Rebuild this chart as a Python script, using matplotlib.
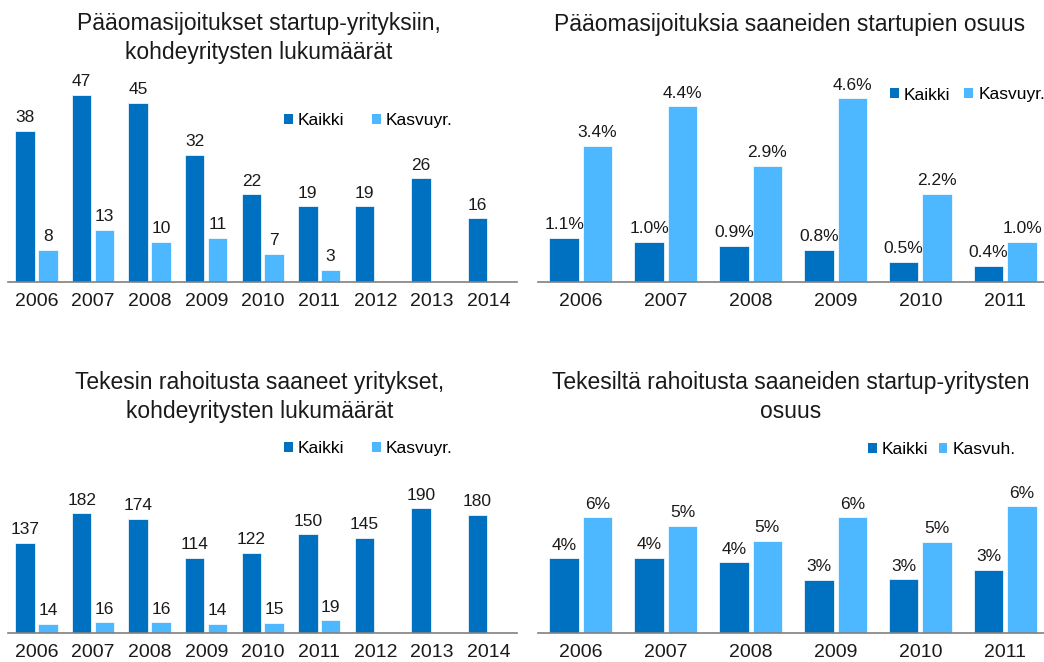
import matplotlib
matplotlib.use('Agg')
import matplotlib.pyplot as plt
from matplotlib.patches import Patch

plt.rcParams['font.family'] = ['Liberation Sans', 'DejaVu Sans']

# data
years_long = ['2006', '2007', '2008', '2009', '2010', '2011', '2012', '2013', '2014']
years_short = ['2006', '2007', '2008', '2009', '2010', '2011']

# Pääomasijoitukset, lukumäärät
pk_kaikki = [38, 47, 45, 32, 22, 19, 19, 26, 16]
pk_kasvu = [8, 13, 10, 11, 7, 3]

# Pääomasijoituksia saaneiden osuus (%)
po_kaikki = [1.1, 1.0, 0.9, 0.8, 0.5, 0.4]
po_kasvu = [3.4, 4.4, 2.9, 4.6, 2.2, 1.0]

# Tekes, lukumäärät
tk_kaikki = [137, 182, 174, 114, 122, 150, 145, 190, 180]
tk_kasvu = [14, 16, 16, 14, 15, 19]

# Tekes, osuus (%)
to_kaikki = [3.72, 3.75, 3.53, 2.65, 2.67, 3.15]
to_kasvu = [5.77, 5.33, 4.60, 5.77, 4.53, 6.32]

DARK = '#0070C0'
LIGHT = '#4DB8FF'
W, H = 1044, 662

fig = plt.figure(figsize=(W / 100, H / 100), dpi=100)


def rect(x0, x1, ytop, ybase):
    return [x0 / W, 1 - ybase / H, (x1 - x0) / W, (ybase - ytop) / H]


def panel(r, cats, a, b, ylim, fmt, width, off, xmax, leg_xy, leg_lab, colsp):
    ax = fig.add_axes(r)
    xa = [i - off for i in range(len(a))]
    xb = [i + off for i in range(len(b))]
    bars_a = ax.bar(xa, a, width, color=DARK, edgecolor='white', linewidth=0.5)
    bars_b = ax.bar(xb, b, width, color=LIGHT, edgecolor='white', linewidth=0.5)
    for bars, vals in ((bars_a, a), (bars_b, b)):
        for bar, v in zip(bars, vals):
            ax.annotate(fmt.format(v), (bar.get_x() + bar.get_width() / 2, v),
                        xytext=(0, 4), textcoords='offset points',
                        ha='center', va='bottom', fontsize=12.5, color='#1a1a1a')
    ax.set_xlim(-0.5, xmax)
    ax.set_ylim(0, ylim)
    ax.set_xticks(range(len(cats)))
    ax.set_xticklabels(cats, fontsize=14, color='#1a1a1a')
    ax.tick_params(axis='x', length=0, pad=8)
    ax.set_yticks([])
    for s in ['top', 'right', 'left']:
        ax.spines[s].set_visible(False)
    ax.spines['bottom'].set_color('#808080')
    ax.spines['bottom'].set_linewidth(1.2)
    ax.patch.set_alpha(0)
    handles = [Patch(facecolor=DARK, label='Kaikki'), Patch(facecolor=LIGHT, label=leg_lab)]
    ax.legend(handles=handles, loc='center left', ncol=2, frameon=False,
              bbox_to_anchor=(leg_xy[0] / W, 1 - leg_xy[1] / H),
              bbox_transform=fig.transFigure, fontsize=12.5,
              handlelength=0.5, handleheight=0.5, handletextpad=0.3,
              columnspacing=colsp, borderaxespad=0, borderpad=0)
    return ax


panel(rect(8.4, 517, 85, 281.7), years_long, pk_kaikki, pk_kasvu, 49.5,
      '{:d}', 0.345, 0.2025, 8.5, (284, 120.7), 'Kasvuyr.', 1.6)
panel(rect(538.4, 1044, 85, 281.7), years_short, po_kaikki, po_kasvu, 4.93,
      '{:.1f}%', 0.347, 0.197, 5.455, (890, 95), 'Kasvuyr.', 0.8)
panel(rect(8.4, 517, 440, 632.7), years_long, tk_kaikki, tk_kasvu, 294,
      '{:d}', 0.345, 0.2025, 8.5, (284, 448.3), 'Kasvuyr.', 1.6)
panel(rect(538.4, 1044, 440, 632.7), years_short, to_kaikki, to_kasvu, 9.63,
      '{:.0f}%', 0.347, 0.197, 5.455, (868, 450), 'Kasvuh.', 0.6)

titles = [
    (259, 38, 'Pääomasijoitukset startup-yrityksiin,\nkohdeyritysten lukumäärät'),
    (790, 24, 'Pääomasijoituksia saaneiden startupien osuus'),
    (260, 397, 'Tekesin rahoitusta saaneet yritykset,\nkohdeyritysten lukumäärät'),
    (791, 397, 'Tekesiltä rahoitusta saaneiden startup-yritysten\nosuus'),
]
for x, y, t in titles:
    fig.text(x / W, 1 - y / H, t, ha='center', va='center', fontsize=16.5,
             linespacing=1.3, color='#1a1a1a')

fig.savefig('out.png', dpi=100, facecolor='white')
